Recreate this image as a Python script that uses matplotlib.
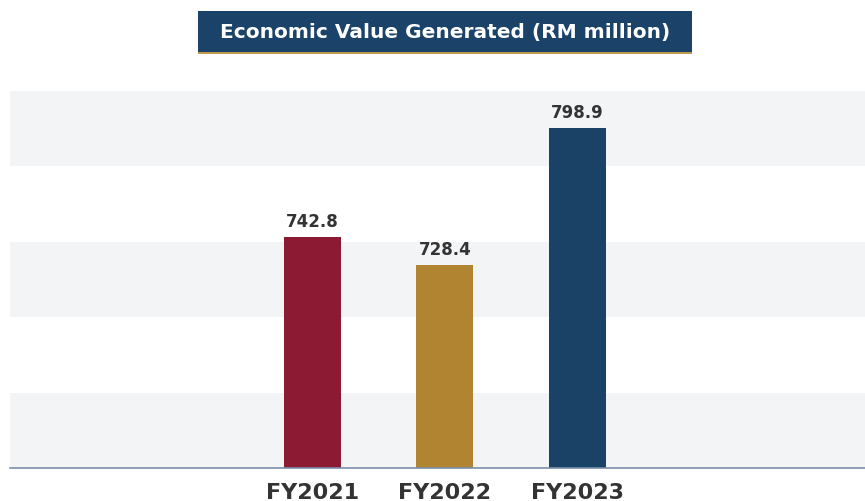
import numpy as np
import matplotlib.pyplot as plt
from matplotlib.patches import Rectangle

years = ['FY2021', 'FY2022', 'FY2023']
values = [742.8, 728.4, 798.9]
bar_colors = ['#8B1A32', '#B08431', '#1A4267']

plt.rcParams['font.family'] = ['DejaVu Sans']

fig = plt.figure(figsize=(8.65, 5.02), dpi=100)
W, H = 865, 502

# plot area in pixel terms: x 10..865, y 92..469 (from top)
ax = fig.add_axes([10 / W, (H - 469) / H, 855 / W, (469 - 92) / H])

y_lo, y_hi = 623.6, 818.1
step = (y_hi - y_lo) / 5
ax.set_ylim(y_lo, y_hi)

# alternating light bands, gray first from the bottom
for i in range(0, 5, 2):
    ax.axhspan(y_lo + i * step, y_lo + (i + 1) * step, color='#F3F4F6', lw=0, zorder=0)

x = np.arange(len(years))
bars = ax.bar(x, values, width=0.43, color=bar_colors, zorder=2)
ax.set_xlim(-2.283, 4.170)

for xi, v in zip(x, values):
    ax.text(xi, v + 3.5, f'{v:.1f}', ha='center', va='bottom', fontsize=12,
            fontweight='bold', color='#333333', zorder=3)

ax.set_xticks(x)
ax.set_xticklabels(years, fontsize=16, fontweight='bold', color='#333333')
ax.tick_params(axis='x', length=0, pad=10)
ax.set_yticks([])
for s in ['top', 'right', 'left']:
    ax.spines[s].set_visible(False)
ax.spines['bottom'].set_color('#7A8FAA')
ax.spines['bottom'].set_linewidth(1.2)
ax.spines['bottom'].set_zorder(3)

# title box with gold underline
fig.patches.append(Rectangle((198 / W, 1 - 53 / H), 494 / W, 41 / H,
                             transform=fig.transFigure, color='#1B4268', lw=0))
fig.patches.append(Rectangle((198 / W, 1 - 55 / H), 494 / W, 2 / H,
                             transform=fig.transFigure, color='#C09A50', lw=0))
fig.text(445 / W, 1 - 33 / H, 'Economic Value Generated (RM million)',
         ha='center', va='center', fontsize=14.5, fontweight='bold', color='white')

fig.savefig('out.png', dpi=100)
